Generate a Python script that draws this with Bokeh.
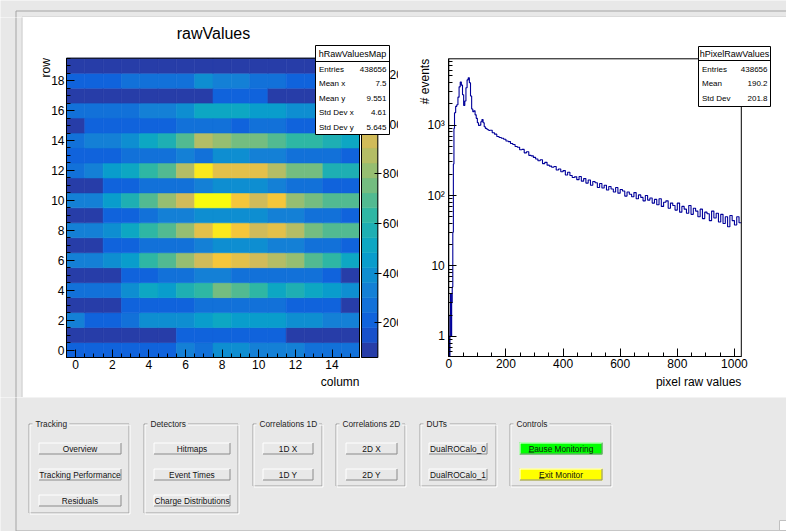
import math
from bokeh.plotting import figure
from bokeh.models import (Range1d, LinearAxis, LogAxis, FixedTicker,
                          LinearColorMapper, ColumnDataSource, LinearScale)
from bokeh.layouts import row, column
from bokeh.embed import file_html
from bokeh.resources import INLINE
from bokeh.core.properties import value

FONT = "Liberation Sans"

# ---------------------------------------------------------------- data
map_columns = list(range(16))
map_rows = list(range(20))
raw_values_map = [  # row 0 .. row 19, columns 0 .. 15
    [205, 210, 200, 215, 212, 208, 335, 270, 395, 388, 330, 325, 322, 268, 275, 272],
    [102, 98, 105, 100, 108, 110, 205, 212, 210, 215, 208, 200, 104, 100, 98, 95],
    [330, 215, 218, 275, 390, 398, 400, 455, 510, 450, 448, 445, 395, 385, 335, 330],
    [100, 104, 110, 205, 212, 218, 210, 265, 272, 270, 268, 262, 215, 208, 200, 108],
    [270, 275, 268, 390, 515, 455, 575, 630, 755, 690, 635, 512, 570, 510, 450, 390],
    [98, 102, 108, 205, 210, 268, 275, 330, 325, 272, 270, 265, 268, 262, 205, 105],
    [330, 335, 392, 450, 630, 695, 815, 935, 1058, 995, 930, 875, 810, 690, 630, 515],
    [104, 108, 205, 212, 268, 272, 275, 330, 390, 395, 388, 335, 328, 272, 265, 210],
    [335, 330, 395, 512, 630, 695, 815, 990, 1178, 1055, 935, 995, 875, 755, 690, 695],
    [105, 110, 208, 212, 270, 328, 332, 392, 395, 390, 388, 330, 325, 272, 268, 212],
    [332, 338, 452, 575, 692, 815, 935, 1265, 1240, 1055, 932, 1060, 812, 755, 695, 690],
    [102, 106, 210, 215, 270, 275, 268, 330, 392, 395, 390, 335, 272, 268, 210, 205],
    [272, 330, 452, 512, 632, 690, 875, 1180, 995, 990, 1000, 870, 752, 755, 575, 570],
    [210, 215, 208, 270, 272, 268, 330, 275, 390, 392, 332, 330, 272, 268, 270, 212],
    [270, 332, 330, 390, 512, 572, 690, 875, 815, 755, 752, 695, 632, 630, 575, 512],
    [108, 210, 205, 212, 215, 210, 270, 268, 272, 212, 270, 265, 210, 205, 208, 200],
    [270, 268, 272, 275, 330, 335, 390, 512, 515, 510, 452, 450, 392, 390, 335, 330],
    [102, 98, 100, 105, 104, 108, 100, 106, 208, 212, 205, 110, 104, 100, 102, 98],
    [210, 205, 212, 270, 272, 268, 275, 392, 330, 335, 272, 268, 212, 208, 205, 210],
    [61, 72, 78, 80, 85, 82, 88, 90, 86, 84, 80, 78, 76, 74, 70, 68],
]
map_title = "rawValues"
map_x_label = "column"
map_y_label = "row"
map_x_ticks = [0, 2, 4, 6, 8, 10, 12, 14]
map_y_ticks = [0, 2, 4, 6, 8, 10, 12, 14, 16, 18]
palette_ticks = [200, 400, 600, 800, 1000, 1200]
map_stats_name = "hRawValuesMap"
map_stats = [("Entries", "438656"), ("Mean x", "7.5"), ("Mean y", "9.551"),
             ("Std Dev x", "4.61"), ("Std Dev y", "5.645")]

hist_edges = list(range(0, 20, 2)) + list(range(20, 144, 4)) + list(range(144, 1025, 8))
hist_counts = (
    [1, 0, 2, 4, 1, 3, 5, 30, 280, 900] +
    [1500, 1850, 1950, 2500, 3500, 4100, 3700, 2700, 1900, 2200,
     3400, 4400, 4700, 4000, 2600, 1700, 1550, 1600, 1400, 1250,
     1080, 990, 1000, 1120, 1200, 1080, 950, 900, 880, 860, 840] +
    [845, 780, 745, 690, 668, 652, 630, 596, 584, 548,
     530, 498, 486, 446, 452, 404, 418, 372, 366, 348,
     330, 312, 322, 284, 296, 270, 262, 252, 258, 230,
     238, 218, 226, 196, 214, 192, 180, 184, 168, 186,
     160, 174, 150, 166, 140, 158, 152, 130, 148, 128,
     140, 120, 134, 124, 112, 130, 108, 122, 116, 98,
     112, 104, 96, 110, 90, 102, 94, 84, 100, 86,
     92, 78, 88, 74, 90, 70, 80, 84, 66, 78,
     72, 62, 78, 58, 70, 64, 56, 72, 54, 66,
     60, 50, 64, 47, 58, 55, 44, 60, 48, 56,
     42, 54, 40, 50, 36, 52, 44, 38, 50, 41]
)
hist_x_label = "pixel raw values"
hist_y_label = "# events"
hist_x_ticks = [0, 200, 400, 600, 800, 1000]
hist_y_ticks = [1, 10, 100, 1000]
hist_y_tick_labels = {1: "1", 10: "10", 100: "10\u00b2", 1000: "10\u00b3"}
hist_y_min, hist_y_max = 0.515, 8770.0
hist_stats_name = "hPixelRawValues"
hist_stats = [("Entries", "438656"), ("Mean", "190.2"), ("Std Dev", "201.8")]

gui_groups = [
    ("Tracking", ["Overview", "Tracking Performance", "Residuals"]),
    ("Detectors", ["Hitmaps", "Event Times", "Charge Distributions"]),
    ("Correlations 1D", ["1D X", "1D Y"]),
    ("Correlations 2D", ["2D X", "2D Y"]),
    ("DUTs", ["DualROCalo_0", "DualROCalo_1"]),
    ("Controls", ["Pause Monitoring", "Exit Monitor"]),
]

# ------------------------------------------------------------ palette
BIRD_STOPS = [0.0, 0.125, 0.25, 0.375, 0.5, 0.625, 0.75, 0.875, 1.0]
BIRD_R = [0.2082, 0.0592, 0.0780, 0.0232, 0.1802, 0.5301, 0.8186, 0.9956, 0.9764]
BIRD_G = [0.1664, 0.3599, 0.5041, 0.6419, 0.7178, 0.7492, 0.7328, 0.7862, 0.9832]
BIRD_B = [0.5293, 0.8684, 0.8385, 0.7914, 0.6425, 0.4662, 0.3499, 0.1968, 0.0539]


def interp(t, xs, ys):
    for i in range(len(xs) - 1):
        if t <= xs[i + 1]:
            f = (t - xs[i]) / (xs[i + 1] - xs[i])
            return ys[i] + f * (ys[i + 1] - ys[i])
    return ys[-1]


def bird(t):
    r, g, b = (interp(t, BIRD_STOPS, c) for c in (BIRD_R, BIRD_G, BIRD_B))
    return "#%02x%02x%02x" % (round(r * 255), round(g * 255), round(b * 255))


N_LEVELS = 20
N_COLORS = 255
# ROOT picks colour index int((level + 0.99) * ncolors / nlevels) of the gradient
PALETTE = [bird(int((i + 0.99) * N_COLORS / N_LEVELS) / (N_COLORS - 1))
           for i in range(N_LEVELS)]

BG = "#e8e8e8"
HELV = {'a': 556, 'b': 556, 'c': 500, 'd': 556, 'e': 556, 'f': 278, 'g': 556, 'h': 556,
        'i': 222, 'j': 222, 'k': 500, 'l': 222, 'm': 833, 'n': 556, 'o': 556, 'p': 556,
        'q': 556, 'r': 333, 's': 500, 't': 278, 'u': 556, 'v': 500, 'w': 722, 'x': 500,
        'y': 500, 'z': 500, ' ': 278, 'C': 722, 'D': 722, 'T': 611, 'U': 722, 'P': 667,
        'E': 667, 'R': 722, 'O': 778, 'M': 833, 'X': 667, 'Y': 667, 'H': 722, 'S': 667}


def tw(s, size):
    return sum(HELV.get(ch, 556) for ch in s) / 1000.0 * size


def span(d0, d1, p0, p1, q0, q1):
    s = (d1 - d0) / (p1 - p0)
    return d0 + (q0 - p0) * s, d0 + (q1 - p0) * s


def px_text(p, x, y, s, size, align="left", baseline="middle", angle=0.0,
            color="black", level="overlay"):
    p.text(x=[x], y=[y], text=[s], x_range_name="px", y_range_name="px",
           text_font=value(FONT), text_font_size=size, text_align=align,
           text_baseline=baseline, angle=angle, text_color=color, level=level)


def px_quad(p, l, t, r, b, fill, line=None, level="glyph"):
    p.quad(left=[l], right=[r], top=[t], bottom=[b], fill_color=fill,
           line_color=line, line_width=1, x_range_name="px", y_range_name="px",
           level=level)


def px_line(p, xs, ys, color, level="glyph"):
    p.line(x=xs, y=ys, line_color=color, line_width=1, x_range_name="px",
           y_range_name="px", level=level)


def style_axis(ax, standoff, tin=8, minor_in=4):
    ax.axis_line_color = "black"
    ax.major_tick_line_color = "black"
    ax.minor_tick_line_color = "black"
    ax.major_label_text_font = FONT
    ax.major_label_text_font_size = "12px"
    ax.major_label_text_color = "black"
    ax.major_label_standoff = standoff
    ax.major_tick_in = tin
    ax.major_tick_out = 0
    ax.minor_tick_in = minor_in
    ax.minor_tick_out = 0


def stats_box(p, L, T, R, B, sep, name, rows_, ys):
    px_quad(p, L, T, R, B, "white", "black", level="overlay")
    px_line(p, [L, R], [sep, sep], "black", level="overlay")
    px_text(p, (L + R) / 2, (T + sep) / 2 + 0.5, name, "9px", align="center")
    for (lab, val), yy in zip(rows_, ys):
        px_text(p, L + 3.5, yy, lab, "8px")
        px_text(p, R - 3, yy, val, "8px", align="right")


def chrome_figure(w, x0, y0, y1, bg):
    f = figure(width=w, height=y1 - y0, x_range=Range1d(x0, x0 + w),
               y_range=Range1d(y1, y0), output_backend="svg", toolbar_location=None,
               x_axis_location=None, y_axis_location=None, min_border=0,
               outline_line_color=None, background_fill_color=bg, border_fill_color=bg)
    f.extra_x_ranges = {"px": Range1d(x0, x0 + w)}
    f.extra_y_ranges = {"px": Range1d(y1, y0)}
    f.xgrid.visible = False
    f.ygrid.visible = False
    return f


PAGE_W = 786
STRIP_H = 17
TOP_H = 397
PLOT_H = TOP_H - STRIP_H

# ============================================================ top strip
pt = chrome_figure(PAGE_W, 0, 0, STRIP_H, BG)
px_line(pt, [15.5, 15.5, PAGE_W + 2], [STRIP_H + 2, 10.5, 10.5], "#a4a4a4")
px_line(pt, [21.5, PAGE_W + 2], [16.5, 16.5], "#cfcfcf")
px_quad(pt, 22, 16.9, PAGE_W + 2, STRIP_H + 2, "white")

# ============================================================ heat map
HEAT_W = 398
MAP_L, MAP_R, MAP_T, MAP_B = 66.0, 359.0, 57.7, 357.0
CB_L, CB_R = 361.0, 377.3

x0d, x1d = min(map_columns) - 0.5, max(map_columns) + 0.5
y0d, y1d = min(map_rows) - 0.5, max(map_rows) + 0.5
flat = [v for r in raw_values_map for v in r]
zlo, zhi = min(flat), max(flat)

ph = figure(width=HEAT_W, height=PLOT_H,
            x_range=Range1d(*span(x0d, x1d, MAP_L, MAP_R, 0, HEAT_W)),
            y_range=Range1d(*span(y0d, y1d, MAP_B, MAP_T, TOP_H, STRIP_H)),
            output_backend="svg", toolbar_location=None,
            x_axis_location=None, y_axis_location=None, min_border=0,
            outline_line_color=None, background_fill_color="white",
            border_fill_color="white")
ph.extra_x_ranges = {"px": Range1d(0, HEAT_W)}
ph.extra_y_ranges = {"px": Range1d(TOP_H, STRIP_H),
                     "cb": Range1d(*span(zlo, zhi, MAP_B, MAP_T, TOP_H, STRIP_H))}
ph.xgrid.visible = False
ph.ygrid.visible = False

# window chrome on the left
px_quad(ph, -2, STRIP_H - 2, 22, TOP_H + 2, BG)
px_line(ph, [15.5, 15.5], [STRIP_H - 2, TOP_H + 2], "#a4a4a4")
px_line(ph, [21.5, 21.5], [STRIP_H - 2, TOP_H + 2], "#cfcfcf")

mapper = LinearColorMapper(palette=PALETTE, low=zlo, high=zhi)
cx, cy, cv = [], [], []
for r in map_rows:
    for c in map_columns:
        cx.append(c)
        cy.append(r)
        cv.append(raw_values_map[r][c])
src = ColumnDataSource(dict(x=cx, y=cy, v=cv))
ph.rect("x", "y", 1, 1, source=src,
        fill_color={"field": "v", "transform": mapper},
        line_color={"field": "v", "transform": mapper}, line_width=0.6)
ph.quad(left=[x0d], right=[x1d], bottom=[y0d], top=[y1d], fill_color=None,
        line_color="black", line_width=1)

# palette axis
dz = (zhi - zlo) / N_LEVELS
ph.quad(left=[CB_L] * N_LEVELS, right=[CB_R] * N_LEVELS,
        bottom=[zlo + i * dz for i in range(N_LEVELS)],
        top=[zlo + (i + 1) * dz for i in range(N_LEVELS)],
        fill_color=PALETTE, line_color=PALETTE, line_width=0.5,
        x_range_name="px", y_range_name="cb")
ph.quad(left=[CB_L], right=[CB_R], bottom=[zlo], top=[zhi], fill_color=None,
        line_color="black", line_width=1, x_range_name="px", y_range_name="cb")
cb_x = x0d + (CB_R - MAP_L) * (x1d - x0d) / (MAP_R - MAP_L)
cb_axis = LinearAxis(y_range_name="cb", fixed_location=cb_x, bounds=(zlo, zhi),
                     ticker=FixedTicker(ticks=palette_ticks, minor_ticks=[]))
style_axis(cb_axis, 1, tin=3)
cb_axis.major_tick_out = 4
cb_axis.axis_line_color = None
ph.add_layout(cb_axis, "right")

mx_minor = [i * 0.5 for i in range(-1, 32) if i % 4 != 0]
my_minor = [i * 0.5 for i in range(-1, 40) if i % 4 != 0]
ax_mx = LinearAxis(fixed_location=y0d, bounds=(x0d, x1d),
                   ticker=FixedTicker(ticks=map_x_ticks, minor_ticks=mx_minor))
style_axis(ax_mx, 2)
ph.add_layout(ax_mx, "below")
ax_my = LinearAxis(fixed_location=x0d, bounds=(y0d, y1d),
                   ticker=FixedTicker(ticks=map_y_ticks, minor_ticks=my_minor))
style_axis(ax_my, 2)
ph.add_layout(ax_my, "left")

px_text(ph, 213, 33, map_title, "16px", align="center", level="glyph")
px_text(ph, MAP_R, 381.5, map_x_label, "12px", align="right", baseline="alphabetic")
px_text(ph, 45, MAP_T, map_y_label, "12px", align="right", baseline="alphabetic",
        angle=math.pi / 2)
stats_box(ph, 315, 45, 389, 134, 61, map_stats_name, map_stats,
          [68.5, 83, 97.5, 112, 126.5])

# ============================================================ histogram
HX0, HIST_W = 398, 388
H_L, H_R, H_T, H_B = 448.3, 740.8, 58.3, 356.0
xd0, xd1 = hist_edges[0], hist_edges[-1]
ly0, ly1 = span(math.log10(hist_y_min), math.log10(hist_y_max), H_B, H_T, TOP_H, STRIP_H)

pr = figure(width=HIST_W, height=PLOT_H,
            x_range=Range1d(*span(xd0, xd1, H_L, H_R, HX0, HX0 + HIST_W)),
            y_range=Range1d(10 ** ly0, 10 ** ly1), y_axis_type="log",
            output_backend="svg", toolbar_location=None,
            x_axis_location=None, y_axis_location=None, min_border=0,
            outline_line_color=None, background_fill_color="white",
            border_fill_color="white")
pr.extra_x_ranges = {"px": Range1d(HX0, HX0 + HIST_W)}
pr.extra_y_ranges = {"px": Range1d(TOP_H, STRIP_H)}
pr.extra_y_scales = {"px": LinearScale()}
pr.xgrid.visible = False
pr.ygrid.visible = False

sx, sy = [], []
for i, cnt in enumerate(hist_counts):
    v = max(cnt, hist_y_min)
    sx += [hist_edges[i], hist_edges[i + 1]]
    sy += [v, v]
pr.line(sx, sy, line_color="#000099", line_width=1.1)
pr.quad(left=[xd0], right=[xd1], bottom=[hist_y_min], top=[hist_y_max],
        fill_color=None, line_color="black", line_width=1)

hx_minor = [v for v in range(50, 1024, 50) if v % 200 != 0]
hy_minor = [m * 10 ** e for e in range(-1, 4) for m in range(2, 10)
            if hist_y_min <= m * 10 ** e <= hist_y_max]
ax_hx = LinearAxis(fixed_location=hist_y_min, bounds=(xd0, xd1),
                   ticker=FixedTicker(ticks=hist_x_ticks, minor_ticks=hx_minor))
style_axis(ax_hx, 2)
pr.add_layout(ax_hx, "below")
ax_hy = LogAxis(fixed_location=xd0, bounds=(hist_y_min, hist_y_max),
                ticker=FixedTicker(ticks=hist_y_ticks, minor_ticks=hy_minor),
                major_label_overrides=hist_y_tick_labels)
style_axis(ax_hy, 4)
pr.add_layout(ax_hy, "left")

px_text(pr, H_R, 381.5, hist_x_label, "12px", align="right", baseline="alphabetic")
px_text(pr, 424, H_T, hist_y_label, "12px", align="right", baseline="alphabetic",
        angle=math.pi / 2)
stats_box(pr, 698, 46, 770, 106, 60, hist_stats_name, hist_stats, [68.5, 83, 97.5])

# ============================================================ GUI panel
GY0 = TOP_H
pg = chrome_figure(PAGE_W, 0, GY0, 531, BG)

px_line(pg, [15.5, 15.5, PAGE_W], [GY0 - 2, 530.5, 530.5], "#a4a4a4")
px_quad(pg, 779, 520, PAGE_W, 530, "white", "#c0c0c0")

box_x = [(28, 129), (143, 238), (252, 322), (335, 405), (419, 496), (509, 611)]
btn_x = [(38, 121), (153, 230), (262, 313), (345, 397), (428, 487), (519, 602)]
BOX_T = 423
btn_tops = [442, 468, 494]
BTN_H = 12
GFS = "8.3px"
for (title, buttons), (bl, br), (xl, xr) in zip(gui_groups, box_x, btn_x):
    bb = 513 if len(buttons) == 3 else 486
    px_line(pg, [bl + 0.5, br - 0.5, br - 0.5, bl + 0.5, bl + 0.5],
            [BOX_T + 0.5, BOX_T + 0.5, bb - 0.5, bb - 0.5, BOX_T + 0.5], "#a0a0a0")
    px_line(pg, [bl + 1.5, br + 0.5, br + 0.5, bl + 1.5, bl + 1.5],
            [BOX_T + 1.5, BOX_T + 1.5, bb + 0.5, bb + 0.5, BOX_T + 1.5], "white")
    px_quad(pg, bl + 4, BOX_T - 5, bl + 9 + tw(title, 8.3), BOX_T + 5, BG)
    px_text(pg, bl + 7, BOX_T + 0.5, title, GFS, color="#222222")
    for k, lab in enumerate(buttons):
        t = btn_tops[k]
        b = t + BTN_H
        face = BG
        if lab.startswith("Pause"):
            face = "#00ff00"
        elif lab.startswith("Exit"):
            face = "#ffff00"
        px_quad(pg, xl, t, xr, b, face)
        px_line(pg, [xl + 0.5, xl + 0.5, xr - 0.5], [b - 0.5, t + 0.5, t + 0.5], "white")
        px_line(pg, [xl + 0.5, xr - 0.5, xr - 0.5], [b - 0.5, b - 0.5, t + 0.5], "#8a8a8a")
        px_text(pg, (xl + xr) / 2, t + BTN_H / 2 + 0.5, lab, GFS, align="center",
                color="#111111")
        if face != BG:
            ux = (xl + xr) / 2 - tw(lab, 8.3) / 2
            px_line(pg, [ux, ux + tw(lab[0], 8.3)], [t + 9.5, t + 9.5], "#111111",
                    level="overlay")

layout = column(pt, row(ph, pr, spacing=0), pg, spacing=0)
open("out.html", "w").write(file_html(layout, INLINE))
